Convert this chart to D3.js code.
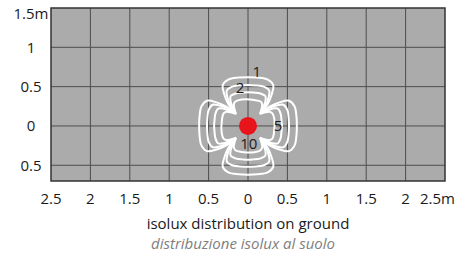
<!DOCTYPE html>
<html>
<head>
<meta charset="utf-8">
<script src="https://cdn.jsdelivr.net/npm/d3@7"></script>
<style>
    body { margin: 0; background: #fff; }
    text { font-family: "Open Sans", sans-serif; }
</style>
</head>
<body>
<script>
// Chart size and plot box
const width = 466;
const height = 257;
const margin = { top: 8, right: 21, bottom: 76, left: 51 };

// Axis ticks (metres from the lamp)
const xTicks = [-2.5, -2, -1.5, -1, -0.5, 0, 0.5, 1, 1.5, 2, 2.5];
const yTicks = [1.5, 1, 0.5, 0, -0.5];

// Isolux lobes: one lobe per level, u = distance along the lobe axis (m),
// v = distance across it (m), read from pinch to pinch
const levels = [1, 2, 5, 10];
const lobeU1 = [0.18, 0.28, 0.40, 0.52, 0.59, 0.615, 0.62, 0.615, 0.59, 0.52, 0.40, 0.28, 0.18];
const lobeV1 = [-0.18, -0.25, -0.30, -0.32, -0.25, -0.12, 0, 0.12, 0.25, 0.32, 0.30, 0.25, 0.18];
const lobeU2 = [0.17, 0.25, 0.36, 0.45, 0.50, 0.515, 0.52, 0.515, 0.50, 0.45, 0.36, 0.25, 0.17];
const lobeV2 = [-0.17, -0.22, -0.26, -0.27, -0.20, -0.10, 0, 0.10, 0.20, 0.27, 0.26, 0.22, 0.17];
const lobeU5 = [0.16, 0.23, 0.31, 0.38, 0.415, 0.425, 0.43, 0.425, 0.415, 0.38, 0.31, 0.23, 0.16];
const lobeV5 = [-0.16, -0.19, -0.22, -0.22, -0.15, -0.07, 0, 0.07, 0.15, 0.22, 0.22, 0.19, 0.16];
const lobeU10 = [0.15, 0.21, 0.27, 0.31, 0.33, 0.335, 0.31, 0.27, 0.21, 0.15];
const lobeV10 = [-0.15, -0.17, -0.18, -0.16, -0.08, 0.08, 0.16, 0.18, 0.17, 0.15];
const lobesU = [lobeU1, lobeU2, lobeU5, lobeU10];
const lobesV = [lobeV1, lobeV2, lobeV5, lobeV10];
// Lobe directions: right, up, left, down
const lobeDirs = [0, 90, 180, 270];

// Contour labels: level and position (m)
const labelText = ["1", "2", "5", "10"];
const labelX = [0.11, -0.10, 0.38, 0.01];
const labelY = [0.69, 0.48, 0.0, -0.22];

const svg = d3.select("body")
    .append("svg")
    .attr("width", width)
    .attr("height", height);

const xScale = d3.scaleLinear()
    .domain([-2.5, 2.5])
    .range([margin.left, width - margin.right]);

const yScale = d3.scaleLinear()
    .domain([-0.7, 1.5])
    .range([height - margin.bottom, margin.top]);

const plotW = width - margin.left - margin.right;
const plotH = height - margin.top - margin.bottom;

// Grey plot area
svg.append("rect")
    .attr("x", margin.left)
    .attr("y", margin.top)
    .attr("width", plotW)
    .attr("height", plotH)
    .attr("fill", "#ababab");

// Grid lines
svg.append("g")
    .selectAll("line")
    .data(xTicks.slice(1, -1))
    .join("line")
    .attr("x1", d => xScale(d))
    .attr("x2", d => xScale(d))
    .attr("y1", margin.top)
    .attr("y2", height - margin.bottom)
    .attr("stroke", "#4d4d4d")
    .attr("stroke-width", 1);

svg.append("g")
    .selectAll("line")
    .data(yTicks.slice(1))
    .join("line")
    .attr("x1", margin.left)
    .attr("x2", width - margin.right)
    .attr("y1", d => yScale(d))
    .attr("y2", d => yScale(d))
    .attr("stroke", "#4d4d4d")
    .attr("stroke-width", 1);

// Isolux curves: each lobe is an open curve, so the pinch stays sharp
const lobeLine = d3.line()
    .x(d => xScale(d[0]))
    .y(d => yScale(d[1]))
    .curve(d3.curveCatmullRom.alpha(0.5));

levels.forEach((lvl, li) => {
    lobeDirs.forEach(deg => {
        const a = deg * Math.PI / 180;
        const pts = lobesU[li].map((u, i) => {
            const v = lobesV[li][i];
            return [u * Math.cos(a) - v * Math.sin(a), u * Math.sin(a) + v * Math.cos(a)];
        });
        svg.append("path")
            .attr("d", lobeLine(pts))
            .attr("fill", "none")
            .attr("stroke", "#fff")
            .attr("stroke-width", 2)
            .attr("stroke-linejoin", "round");
    });
});

// Lamp
svg.append("circle")
    .attr("cx", xScale(0))
    .attr("cy", yScale(0))
    .attr("r", 9)
    .attr("fill", "#e8141c");

// Contour labels
svg.append("g")
    .selectAll("text")
    .data(labelText)
    .join("text")
    .attr("x", (d, i) => xScale(labelX[i]))
    .attr("y", (d, i) => yScale(labelY[i]))
    .attr("text-anchor", "middle")
    .attr("dy", "0.35em")
    .attr("font-size", 15)
    .attr("fill", "#1a1a1a")
    .text(d => d);

// Plot border
svg.append("rect")
    .attr("x", margin.left)
    .attr("y", margin.top)
    .attr("width", plotW)
    .attr("height", plotH)
    .attr("fill", "none")
    .attr("stroke", "#333")
    .attr("stroke-width", 1.5);

// X tick labels
svg.append("g")
    .selectAll("text")
    .data(xTicks)
    .join("text")
    .attr("x", d => xScale(d))
    .attr("y", 199)
    .attr("dy", "0.35em")
    .attr("text-anchor", (d, i) => i === xTicks.length - 1 ? "start" : "middle")
    .attr("dx", (d, i) => i === xTicks.length - 1 ? -25 : 0)
    .attr("font-size", 15)
    .attr("fill", "#1a1a1a")
    .text((d, i) => Math.abs(d) + (i === xTicks.length - 1 ? "m" : ""));

// Y tick labels
svg.append("g")
    .selectAll("text")
    .data(yTicks)
    .join("text")
    .attr("x", 31)
    .attr("y", (d, i) => yScale(d) + (i === 0 ? 6 : 0))
    .attr("dy", "0.35em")
    .attr("text-anchor", "middle")
    .attr("font-size", 15)
    .attr("fill", "#1a1a1a")
    .text((d, i) => Math.abs(d) + (i === 0 ? "m" : ""));

// Titles
svg.append("text")
    .attr("x", 248)
    .attr("y", 224)
    .attr("dy", "0.35em")
    .attr("text-anchor", "middle")
    .attr("font-size", 15)
    .attr("fill", "#1a1a1a")
    .text("isolux distribution on ground");

svg.append("text")
    .attr("x", 243)
    .attr("y", 244)
    .attr("dy", "0.35em")
    .attr("text-anchor", "middle")
    .attr("font-size", 15)
    .attr("font-style", "italic")
    .attr("fill", "#808080")
    .text("distribuzione isolux al suolo");
</script>
</body>
</html>
